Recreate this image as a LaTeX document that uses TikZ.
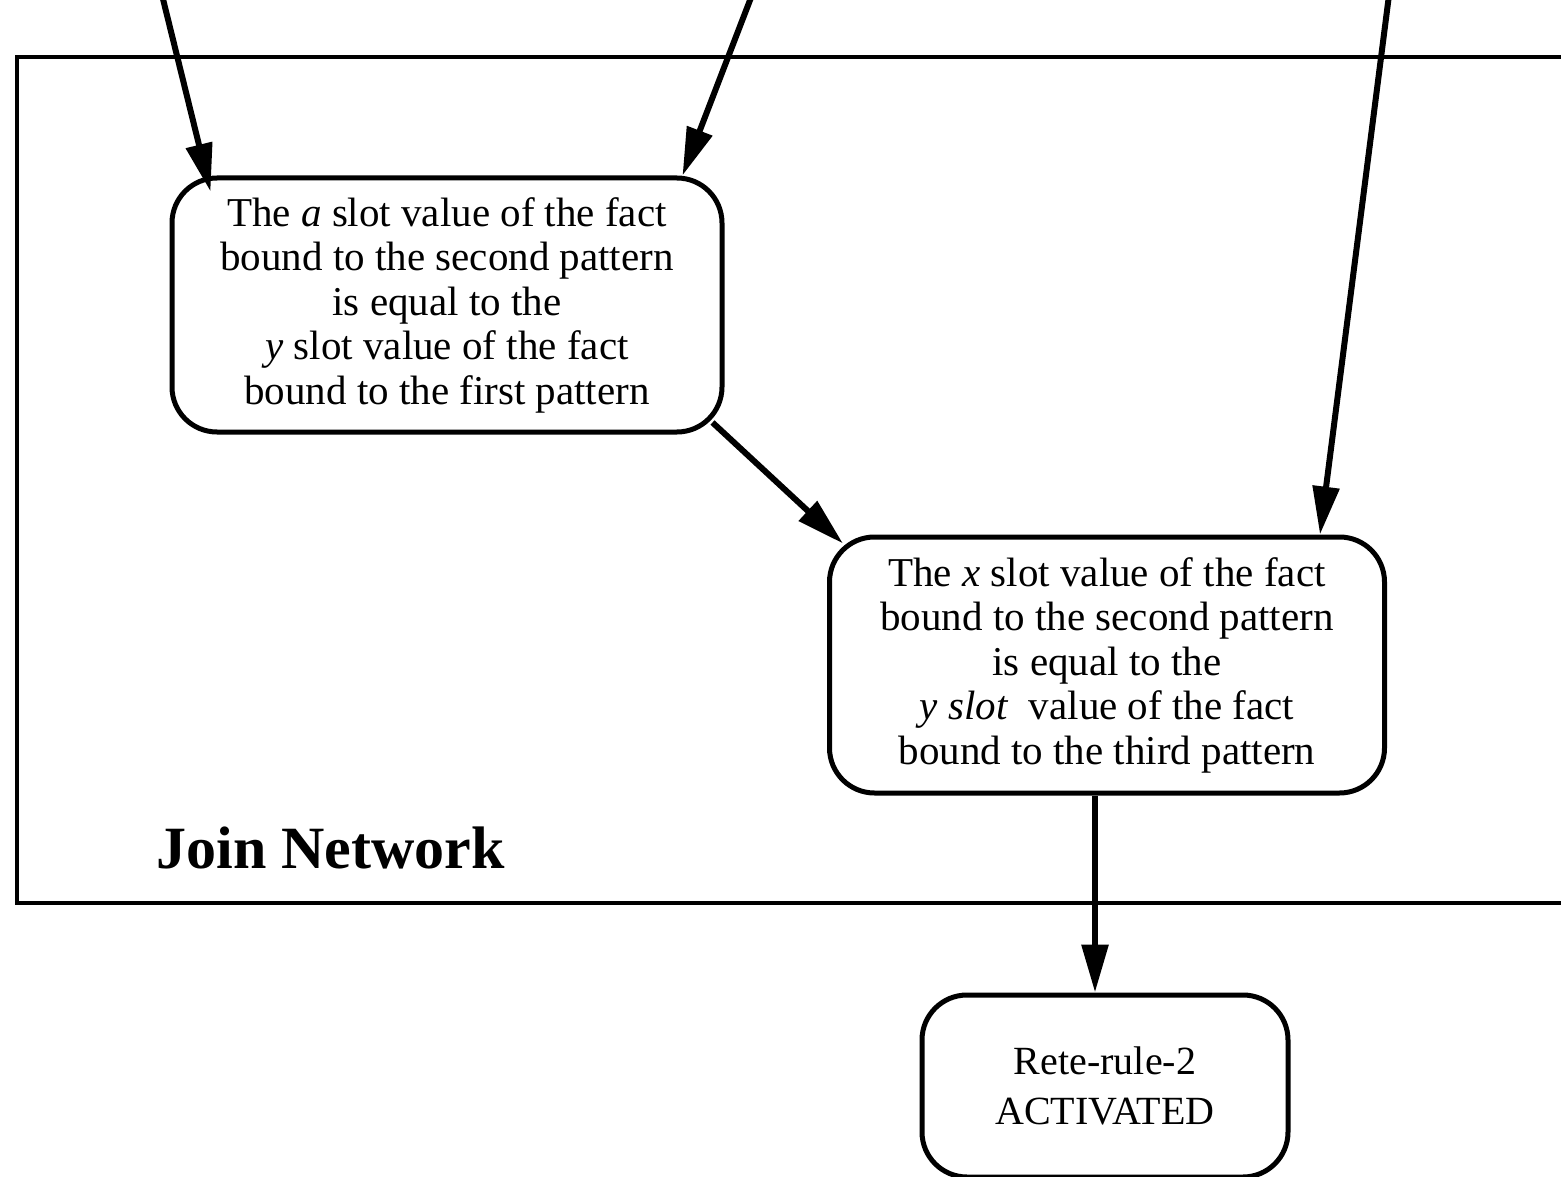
\documentclass[tikz,border=0pt]{standalone}
\usepackage{fontspec}
\setmainfont{Liberation Serif}
\usetikzlibrary{arrows.meta,calc}
\begin{document}
\begin{tikzpicture}[x=1pt,y=-1pt,
  box/.style={draw, line width=5pt, rounded corners=45pt, align=center,
    font=\fontsize{41}{44.5}\selectfont, inner sep=0pt},
  conn/.style={line width=6pt, -{Triangle[length=48pt,width=26pt]}},
  frame/.style={line width=4pt}]
\useasboundingbox (0,0) rectangle (1561,1177);
\clip (0,0) rectangle (1561,1177);
% frame of the join network
\draw[frame] (1570,57) -- (17,57) -- (17,903) -- (1570,903);
\node[anchor=base west, font=\fontsize{60}{60}\selectfont\bfseries] (lbl) at (153,868) {Join Network};
% nodes
\node[box, minimum width=550pt, minimum height=254pt] (n1) at (447,305)
  {The \textit{a} slot value of the fact\\
   bound to the second pattern\\
   is equal to the\\
   \textit{y} slot value of the fact\\
   bound to the first pattern};
\node[box, minimum width=555pt, minimum height=256pt] (n2) at (1107,665)
  {The \textit{x} slot value of the fact\\
   bound to the second pattern\\
   is equal to the\\
   \textit{y slot}\ \ value of the fact\\
   bound to the third pattern};
\node[box, minimum width=366pt, minimum height=182pt, font=\fontsize{40}{50}\selectfont] (n3) at (1105,1086)
  {Rete-rule-2\\ ACTIVATED};
% free ends above the picture
\coordinate (s1) at (162,-5);
\coordinate (s2) at (752,-5);
\coordinate (s3) at (1389,-5);
% connectors
\draw[conn] (s1) -- ($(n1.north west)+(41,16)$);
\draw[conn] (s2) -- ($(n1.north east)+(-42,0)$);
\draw[conn] (s3) -- ($(n2.north east)+(-67,0)$);
\draw[conn] ($(n1.south east)+(-12,-12)$) -- ($(n2.north west)+(16,9)$);
\draw[conn] ($(n2.south)+(-12,0)$) -- ($(n3.north)+(-10,0)$);
\end{tikzpicture}
\end{document}
